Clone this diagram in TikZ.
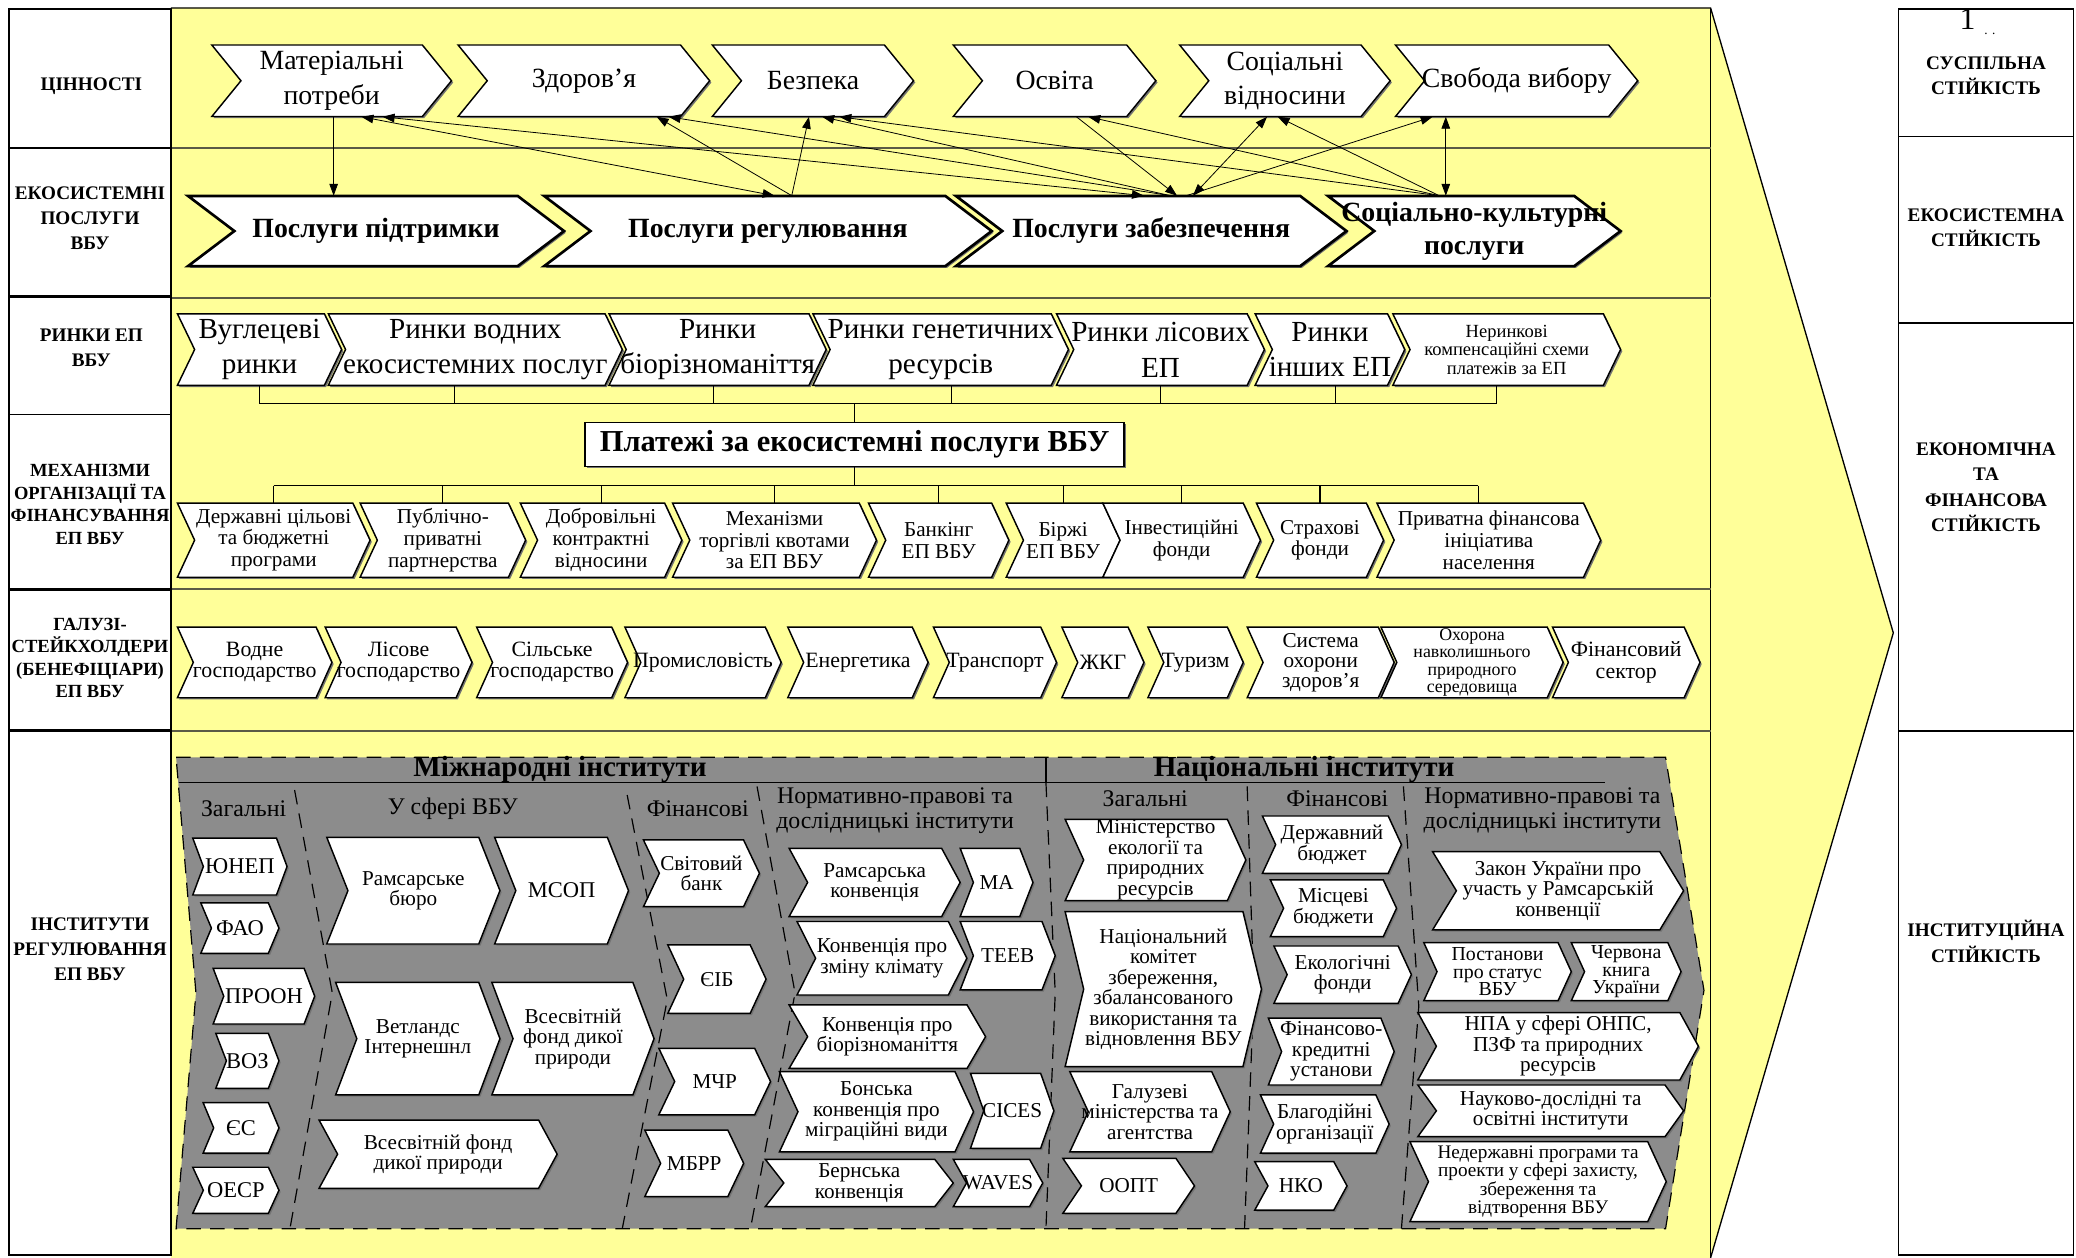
\documentclass[tikz,border=0pt]{standalone}
\usepackage{fontspec}
\setmainfont{Liberation Serif}
\usetikzlibrary{arrows.meta}

\definecolor{panelyellow}{RGB}{255,255,153}
\definecolor{panelgray}{RGB}{140,140,140}
\definecolor{rowline}{RGB}{90,90,70}

\newcommand\fs[2]{\fontsize{#1}{#2}\selectfont}

\tikzset{
  chev/.style={fill=white, draw=black, line width=1.1pt, line join=miter},
  chevshadow/.style={fill=black!55},
  chevtext/.style={inner sep=0pt, align=center, font=\fs{16}{15.5}},
  lab/.style={align=center, inner sep=0pt, font=\bfseries\fs{14.5}{19}},
  arr/.style={line width=0.6pt, -{Triangle[length=9pt,width=6.5pt]}},
  darr/.style={line width=0.6pt, {Triangle[length=9pt,width=6.5pt]}-{Triangle[length=9pt,width=6.5pt]}},
  bus/.style={line width=0.8pt},
  sep/.style={line width=0.9pt, dash pattern=on 11pt off 7pt},
  hdr/.style={inner sep=0pt, font=\bfseries\fs{22}{24}},
  sub/.style={inner sep=0pt, align=center, font=\fs{18}{19}},
}

% chevron: [node options]{name}{x left}{x right}{y top}{y bottom}{point depth}{text}
\newcommand\chv[8][]{%
  \pgfmathsetmacro\chvmid{(#5+#6)/2}%
  \fill[chevshadow] ({#3+1.3},{#5+1.3}) -- ({#4-#7+1.3},{#5+1.3}) -- ({#4+1.3},{\chvmid+1.3})
     -- ({#4-#7+1.3},{#6+1.3}) -- ({#3+1.3},{#6+1.3}) -- ({#3+#7+1.3},{\chvmid+1.3}) -- cycle;
  \filldraw[chev] (#3,#5) -- ({#4-#7},#5) -- (#4,\chvmid) -- ({#4-#7},#6) -- (#3,#6) -- ({#3+#7},\chvmid) -- cycle;
  \node[chevtext,#1,minimum width={(#4-#3)*1pt},minimum height={(#6-#5)*1pt}] (#2) at ({(#3+#4)/2},\chvmid) {#8};%
}

\begin{document}
\begin{tikzpicture}[x=1pt,y=-1pt]
\useasboundingbox (0,0) rectangle (1568,950);
\fill[white] (0,0) rectangle (1568,950);

% yellow field with the arrow point
\fill[panelyellow] (129,6) -- (1292,6) -- (1430,478) -- (1292,950) -- (129,950) -- cycle;
\draw[line width=1pt] (129,6) -- (1292,6) -- (1430,478) -- (1292,950);
\draw[line width=0.8pt] (1292,6) -- (1292,950);
\foreach \yy in {112,225,445,552}
  \draw[rowline, line width=1.4pt] (129,\yy) -- (1292,\yy);

% left column
\draw[line width=1.2pt] (7,7) rectangle (129,948);
\foreach \yy in {112,313}
  \draw[line width=1.2pt] (7,\yy) -- (129,\yy);
\foreach \yy in {224,445,552}
  \draw[line width=2.4pt] (7,\yy) -- (129,\yy);
\node[lab] (lv) at (69,65) {ЦІННОСТІ};
\node[lab] (ls) at (68,165) {ЕКОСИСТЕМНІ\\ПОСЛУГИ\\ВБУ};
\node[lab] (lr) at (69,263) {РИНКИ ЕП\\ВБУ};
\node[lab, font=\bfseries\fs{14}{17}] (lm) at (68,381) {МЕХАНІЗМИ\\ОРГАНІЗАЦІЇ ТА\\ФІНАНСУВАННЯ\\ЕП ВБУ};
\node[lab, font=\bfseries\fs{14}{17}] (lg) at (68,497) {ГАЛУЗІ-\\СТЕЙКХОЛДЕРИ\\(БЕНЕФІЦІАРИ)\\ЕП ВБУ};
\node[lab] (li) at (68,717) {ІНСТИТУТИ\\РЕГУЛЮВАННЯ\\ЕП ВБУ};

% right column
\draw[line width=1.2pt] (1434,7) rectangle (1566,948);
\foreach \yy in {103,244,552}
  \draw[line width=1.2pt] (1434,\yy) -- (1566,\yy);
\node[inner sep=0pt, anchor=base, font=\fs{24}{24}] (pg) at (1486,22) {1};
\node[inner sep=0pt, anchor=base, font=\fs{10}{10}] (pgd) at (1503,26) {.\,\,.};
\node[lab] (rs) at (1500,57) {СУСПІЛЬНА\\СТІЙКІСТЬ};
\node[lab] (re) at (1500,172) {ЕКОСИСТЕМНА\\СТІЙКІСТЬ};
\node[lab] (rf) at (1500,368) {ЕКОНОМІЧНА\\ТА\\ФІНАНСОВА\\СТІЙКІСТЬ};
\node[lab] (ri) at (1500,711) {ІНСТИТУЦІЙНА\\СТІЙКІСТЬ};

% values
\begin{scope}[chevtext/.append style={font=\fs{21}{26}}]
\chv{v1}{160}{341}{34}{88}{22}{Матеріальні\\потреби}
\chv{v2}{346}{536}{34}{88}{22}{Здоров'я}
\chv{v3}{538}{690}{34}{88}{22}{Безпека}
\chv{v4}{720}{873}{34}{88}{22}{Освіта}
\chv{v5}{891}{1050}{34}{88}{22}{Соціальні\\відносини}
\chv{v6}{1054}{1237}{34}{88}{22}{Свобода вибору}
\end{scope}

% ecosystem services
\begin{scope}[chev/.append style={line width=2pt}, chevtext/.append style={font=\bfseries\fs{21}{25}}]
\chv{s1}{142}{426}{148}{201}{35}{Послуги підтримки}
\chv{s2}{411}{749}{148}{201}{35}{Послуги регулювання}
\chv{s3}{722}{1017}{148}{201}{35}{Послуги забезпечення}
\chv{s4}{1003}{1224}{148}{201}{35}{Соціально-культурні\\послуги}
\end{scope}

% links between values and services
\draw[arr]  ([xshift=1.5pt]v1.south)   -- ([xshift=-32pt]s1.north);
\draw[darr] ([xshift=22.5pt]v1.south)  -- ([xshift=5pt]s2.north);
\draw[darr] ([xshift=38.5pt]v1.south)  -- ([xshift=-5.5pt]s3.north);
\draw[arr]  ([xshift=18pt]s2.north)    -- ([xshift=55pt]v2.south);
\draw[arr]  ([xshift=14.5pt]s3.north)  -- ([xshift=64pt]v2.south);
\draw[arr]  ([xshift=18pt]s2.north)    -- ([xshift=-3pt]v3.south);
\draw[arr]  ([xshift=14.5pt]s3.north)  -- ([xshift=7pt]v3.south);
\draw[arr]  ([xshift=-26.5pt]s4.north) -- ([xshift=20pt]v3.south);
\draw[arr]  ([xshift=16.5pt]v4.south)  -- ([xshift=19.5pt]s3.north);
\draw[arr]  ([xshift=-26.5pt]s4.north) -- ([xshift=25.5pt]v4.south);
\draw[darr] ([xshift=-13.5pt]v5.south) -- ([xshift=31.5pt]s3.north);
\draw[arr]  ([xshift=-26.5pt]s4.north) -- ([xshift=-5.5pt]v5.south);
\draw[arr]  ([xshift=26.5pt]s3.north)  -- ([xshift=-63.5pt]v6.south);
\draw[darr] ([xshift=-53.5pt]v6.south) -- ([xshift=-21.5pt]s4.north);

% markets
\begin{scope}[chevtext/.append style={font=\fs{22}{27}}]
\chv{r1}{134}{258}{237}{291}{13}{Вуглецеві\\ринки}
\chv{r2}{248}{470}{237}{291}{13}{Ринки водних\\екосистемних послуг}
\chv{r3}{460}{624}{237}{291}{13}{Ринки\\біорізноманіття}
\chv{r4}{614}{807}{237}{291}{13}{Ринки генетичних\\ресурсів}
\chv{r5}{798}{955}{237}{291}{13}{Ринки лісових\\ЕП}
\chv{r6}{948}{1061}{237}{291}{13}{Ринки\\інших ЕП}
\chv[font=\fs{14}{14}]{r7}{1052}{1224}{237}{291}{13}{Неринкові\\компенсаційні схеми\\платежів за ЕП}
\end{scope}

% payments box
\fill[chevshadow] (443.3,320.3) rectangle (850.3,353.8);
\node[draw, fill=white, line width=1.1pt, inner sep=0pt, minimum width=407pt, minimum height=33.5pt,
      font=\bfseries\fs{23}{26}] (pay) at (645.5,335.75) {Платежі за екосистемні послуги ВБУ};

\coordinate (busA) at (645.5,305);
\coordinate (busB) at (645.5,366.8);
\draw[bus] (r1.south) -- (r1.south |- busA);
\draw[bus] ([xshift=-16pt]r2.south) -- ([xshift=-16pt]r2.south |- busA);
\draw[bus] ([xshift=-3.4pt]r3.south) -- ([xshift=-3.4pt]r3.south |- busA);
\draw[bus] ([xshift=8.2pt]r4.south) -- ([xshift=8.2pt]r4.south |- busA);
\draw[bus] (r5.south) -- (r5.south |- busA);
\draw[bus] ([xshift=4.5pt]r6.south) -- ([xshift=4.5pt]r6.south |- busA);
\draw[bus] ([xshift=-7.4pt]r7.south) -- ([xshift=-7.4pt]r7.south |- busA);
\draw[bus] (r1.south |- busA) -- ([xshift=-7.4pt]r7.south |- busA);
\draw[bus] (busA) -- (pay.north);
\draw[bus] (pay.south) -- (busB);

% financing mechanisms
\begin{scope}[chevtext/.append style={font=\fs{16}{16.5}}]
\chv{m1}{134}{279.5}{380}{436}{13}{Державні цільові\\та бюджетні\\програми}
\chv{m2}{272}{397}{380}{436}{13}{Публічно-\\приватні\\партнерства}
\chv{m3}{393}{515}{380}{436}{13}{Добровільні\\контрактні\\відносини}
\chv{m4}{508}{662}{380}{436}{13}{Механізми\\торгівлі квотами\\за ЕП ВБУ}
\chv{m5}{656}{762}{380}{436}{13}{Банкінг\\ЕП ВБУ}
\chv{m6}{760}{846}{380}{436}{13}{Біржі\\ЕП ВБУ}
\chv{m7}{833}{952}{380}{436}{13}{Інвестиційні\\фонди}
\chv{m8}{949}{1045}{380}{436}{13}{Страхові\\фонди}
\chv{m9}{1040}{1209}{380}{436}{13}{Приватна фінансова\\ініціатива\\населення}
\end{scope}
\foreach \m in {m1,m2,m3,m4,m5,m6,m7,m8}
  \draw[bus] (\m.north |- busB) -- (\m.north);
\draw[bus] ([xshift=-8pt]m9.north |- busB) -- ([xshift=-8pt]m9.north);
\draw[bus] (m1.north |- busB) -- ([xshift=-8pt]m9.north |- busB);

% sectors and stakeholders
\begin{scope}[chevtext/.append style={font=\fs{16.5}{16}}]
\chv{g1}{134}{250.7}{473.6}{527}{12}{Водне\\господарство}
\chv{g2}{245.6}{356.5}{473.6}{527}{12}{Лісове\\господарство}
\chv{g3}{360}{474}{473.6}{527}{12}{Сільське\\господарство}
\chv{g4}{472}{590}{473.6}{527}{12}{Промисловість}
\chv{g5}{595}{701}{473.6}{527}{12}{Енергетика}
\chv{g6}{705}{798}{473.6}{527}{12}{Транспорт}
\chv{g7}{802}{864}{473.6}{527}{12}{ЖКГ}
\chv{g8}{867}{939}{473.6}{527}{12}{Туризм}
\chv[font=\fs{16}{15}]{g9}{942}{1053}{473.6}{527}{12}{Система\\охорони\\здоров'я}
\chv[font=\fs{13.5}{13}]{g10}{1043}{1180.6}{473.6}{527}{12}{Охорона\\навколишнього\\природного\\середовища}
\chv{g11}{1172.6}{1284}{473.6}{527}{12}{Фінансовий\\сектор}
\end{scope}

% institutions panel
\fill[panelgray] (133,572) -- (1258,572) -- (1287,748) -- (1258,928) -- (133,928) -- (148,750) -- cycle;
\draw[sep] (133,572) -- (1258,572) -- (1287,748) -- (1258,928) -- (133,928) -- (148,750) -- cycle;
\draw[line width=1pt] (135,591) -- (1212,591);
\draw[line width=0.9pt] (790,572) -- (790,591);
\draw[sep] (222.5,596.7) -- (251,750) -- (219,928);
\draw[sep] (473.7,600.5) -- (504,755) -- (470,928);
\draw[sep] (571.8,594) -- (600.5,750) -- (566.8,928);
\draw[sep] (790,591) -- (797,750) -- (790,928);
\draw[sep] (942,594) -- (947,750) -- (940,928);
\draw[sep] (1060,594) -- (1071.6,760) -- (1058.5,928);

\node[hdr] (hint) at (423,581) {Міжнародні інститути};
\node[hdr] (hnat) at (985,581) {Національні інститути};
\node[sub] (h1) at (184,611) {Загальні};
\node[sub] (h2) at (342,611) {У сфері ВБУ};
\node[sub] (h3) at (527,611) {Фінансові};
\node[sub] (h4) at (676,612) {Нормативно-правові та\\дослідницькі інститути};
\node[sub] (h5) at (865,603) {Загальні};
\node[sub] (h6) at (1010,603) {Фінансові};
\node[sub] (h7) at (1165,612) {Нормативно-правові та\\дослідницькі інститути};

% international: general
\begin{scope}[chevtext/.append style={font=\fs{17}{17}}]
\chv{i1}{145.6}{216.8}{633}{676}{8}{ЮНЕП}
\chv{i2}{151.7}{210.7}{682}{720}{8}{ФАО}
\chv{i3}{161}{237.7}{731.4}{773.4}{8}{ПРООН}
\chv{i4}{163}{210.7}{780.5}{822}{8}{ВОЗ}
\chv{i5}{153.4}{210.7}{832.8}{871}{8}{ЄС}
\chv{i6}{145.6}{210.7}{881.6}{916.4}{8}{ОЕСР}
\end{scope}

% international: wetlands
\chv{w1}{246.8}{377.6}{632.4}{713}{16}{Рамсарське\\бюро}
\chv[font=\fs{17}{17}]{w2}{373.6}{474.7}{632.4}{713}{16}{МСОП}
\chv{w3}{253.5}{377.6}{742}{827}{16}{Ветландс\\Інтернешнл}
\chv{w4}{371.5}{494}{742}{827}{16}{Всесвітній\\фонд дикої\\природи}
\chv{w5}{241}{420.8}{846}{897.5}{14}{Всесвітній фонд\\дикої природи}

% international: financial
\chv{f1}{486}{573.6}{634.4}{684.8}{12}{Світовий\\банк}
\chv{f2}{504.4}{578.6}{713.7}{765.4}{12}{ЄІБ}
\chv{f3}{497.6}{582}{791.8}{842}{12}{МЧР}
\chv{f4}{487}{561.7}{853.5}{903.8}{12}{МБРР}

% international: legal and research
\chv{n1}{596}{725.2}{640.7}{692.3}{14}{Рамсарська\\конвенція}
\chv{n2}{725.2}{780.2}{640.7}{692.3}{10}{МА}
\chv{n3}{602}{730.3}{696}{751.5}{14}{Конвенція про\\зміну клімату}
\chv{n4}{725.2}{797}{696}{747.7}{10}{TEEB}
\chv{n5}{596}{744.4}{759}{807}{14}{Конвенція про\\біорізноманіття}
\chv{n6}{588.7}{735.3}{809.4}{870}{14}{Бонська\\конвенція про\\міграційні види}
\chv{n7}{733}{796}{810.7}{867.3}{10}{CICES}
\chv{n8}{578}{720}{875.6}{911.4}{14}{Бернська\\конвенція}
\chv{n9}{720}{787.6}{875.6}{911.4}{10}{WAVES}

% national: general
\chv{a1}{804.5}{941}{618.8}{680.3}{14}{Міністерство\\екології та\\природних\\ресурсів}
\chv{a2}{804.5}{952.8}{688.6}{805.6}{14}{Національний\\комітет\\збереження,\\збалансованого\\використання та\\відновлення ВБУ}
\chv{a3}{808}{929.2}{809.4}{870}{14}{Галузеві\\міністерства та\\агентства}
\chv{a4}{802.8}{902.2}{874.9}{916.4}{14}{ООПТ}

% national: financial
\chv{b1}{953.5}{1058.5}{616.3}{659.6}{10}{Державний\\бюджет}
\chv{b2}{959.5}{1054.8}{664.6}{707.4}{10}{Місцеві\\бюджети}
\chv{b3}{962.2}{1066}{714.5}{757.8}{10}{Екологічні\\фонди}
\chv{b4}{958}{1053}{769}{819.5}{10}{Фінансово-\\кредитні\\установи}
\chv{b5}{952}{1049.2}{827}{871}{10}{Благодійні\\організації}
\chv{b6}{947.7}{1017.4}{877.4}{914}{10}{НКО}

% national: legal and research
\chv{c1}{1082}{1271.6}{643.2}{702.4}{18}{Закон України про\\участь у Рамсарській\\конвенції}
\chv[font=\fs{15}{13.5}]{c2}{1075.4}{1186.8}{712}{755.8}{10}{Постанови\\про статус\\ВБУ}
\chv[font=\fs{15}{13.5}]{c3}{1186.8}{1269.7}{712}{755.8}{10}{Червона\\книга\\України}
\chv{c4}{1070.9}{1282.8}{764.8}{815.7}{14}{НПА у сфері ОНПС,\\ПЗФ та природних\\ресурсів}
\chv{c5}{1070.9}{1271.6}{819.5}{858.5}{14}{Науково-дослідні та\\освітні інститути}
\chv[font=\fs{14.5}{14}]{c6}{1064.9}{1258.5}{862.3}{922.7}{14}{Недержавні програми та\\проекти у сфері захисту,\\збереження та\\відтворення ВБУ}

\end{tikzpicture}
\end{document}
